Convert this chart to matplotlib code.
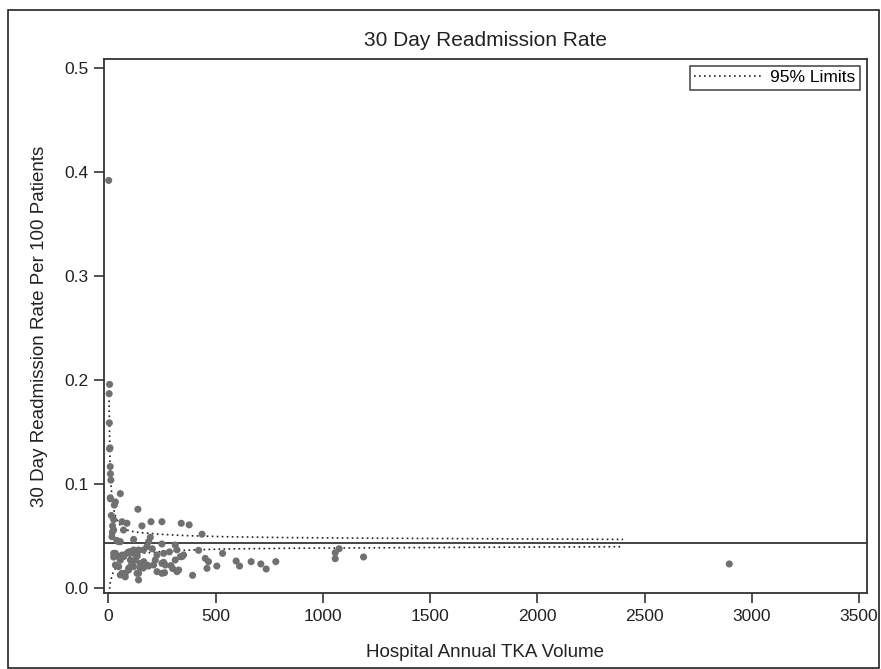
import numpy as np
import matplotlib
matplotlib.use('Agg')
from matplotlib import pyplot as plt
from matplotlib.patches import Rectangle

plt.rcParams['font.family'] = ['Liberation Sans', 'DejaVu Sans']

# 医院年TKA量 与 30天再入院率 (点)
vol = [2, 6, 4, 5, 8, 6, 9, 10, 12, 9, 10, 33, 28, 56, 138,
       25, 64, 87, 71, 157, 25, 17, 19, 40, 47, 56, 118, 196, 199, 250,
       340, 377, 437, 188, 180, 250, 312, 320, 421, 336, 351, 25, 33, 48, 64,
       95, 103, 118, 141, 164, 87, 71, 56, 103, 118, 126, 149, 165, 180, 211,
       188, 163, 149, 33, 48, 56, 64, 79, 79, 95, 95, 103, 118, 134, 141,
       141, 219, 227, 258, 258, 250, 266, 292, 312, 343, 227, 250, 262, 320, 328,
       393, 452, 467, 460, 506, 533, 596, 612, 666, 711, 736, 781, 1076, 1058, 1058,
       1190, 2895, 25, 14, 20, 110, 135, 205, 285, 300]
rate = [0.392, 0.196, 0.187, 0.159, 0.135, 0.134, 0.117, 0.110, 0.104, 0.087, 0.086, 0.083, 0.080, 0.091, 0.076,
        0.066, 0.064, 0.0625, 0.056, 0.060, 0.056, 0.0496, 0.054, 0.046, 0.0448, 0.0448, 0.047, 0.049, 0.064, 0.064,
        0.0625, 0.061, 0.052, 0.0448, 0.040, 0.0426, 0.0416, 0.037, 0.0365, 0.0304, 0.032, 0.0336, 0.0336, 0.0304, 0.032,
        0.035, 0.035, 0.0368, 0.0368, 0.0368, 0.0336, 0.0304, 0.027, 0.0272, 0.0336, 0.027, 0.024, 0.0256, 0.0224, 0.0224,
        0.0214, 0.0195, 0.0195, 0.0224, 0.0208, 0.0128, 0.0144, 0.011, 0.0144, 0.0176, 0.0192, 0.0208, 0.0208, 0.0144, 0.0144,
        0.008, 0.0272, 0.032, 0.0336, 0.025, 0.024, 0.0224, 0.0218, 0.0272, 0.0304, 0.016, 0.0144, 0.015, 0.016, 0.0176,
        0.0125, 0.0288, 0.0256, 0.0192, 0.0214, 0.0336, 0.0262, 0.0214, 0.0256, 0.0234, 0.0186, 0.0256, 0.038, 0.0342, 0.0285,
        0.0301, 0.0234, 0.030, 0.070, 0.060, 0.025, 0.031, 0.038, 0.035, 0.019]

# 平均值和95%界限
mean_rate = 0.0437
lim_x = [3, 5, 8, 12, 20, 30, 50, 71, 100, 149, 240, 304, 382, 537, 848, 1200, 1800, 2400]
lim_up = [0.195, 0.16, 0.12, 0.10, 0.082, 0.071, 0.062, 0.0577, 0.055, 0.0535, 0.052, 0.0512, 0.0505, 0.0496, 0.0487, 0.0482, 0.0476, 0.047]
lim_lo = [-0.01, -0.004, 0.004, 0.008, 0.014, 0.018, 0.0245, 0.028, 0.031, 0.0336, 0.0352, 0.036, 0.0368, 0.0378, 0.0385, 0.0389, 0.0395, 0.040]

xticks = [0, 500, 1000, 1500, 2000, 2500, 3000, 3500]
yticks = [0.0, 0.1, 0.2, 0.3, 0.4, 0.5]

fig = plt.figure(figsize=(8.81, 6.69), dpi=100)
ax = fig.add_axes([104/881, 1-593.3/669, (867-104)/881, (593.3-59)/669])

fig.patches.append(Rectangle((8/881, 0.002), 871/881, 1-10/669-0.002, transform=fig.transFigure,
                             fill=False, edgecolor='#222222', linewidth=1.2))

ax.axhline(mean_rate, color='#444444', lw=1.4, zorder=2)
ax.plot(lim_x, lim_up, color='#222222', lw=1.2, ls=(0, (1, 2)), label='95% Limits', zorder=3)
ax.plot(lim_x, lim_lo, color='#222222', lw=1.2, ls=(0, (1, 2)), zorder=3)
ax.scatter(vol, rate, s=26, color='#707070', edgecolors='none', zorder=4)

ax.set_xlim(-20, 3537)
ax.set_ylim(-0.0048, 0.5087)
ax.set_xticks(xticks)
ax.set_yticks(yticks)
ax.set_yticklabels(['%.1f' % v for v in yticks])
ax.tick_params(length=7, width=1.2, color='#333333', labelsize=12.5, labelcolor='#222222', pad=4)
for s in ax.spines.values():
    s.set_color('#333333')
    s.set_linewidth(1.3)

ax.set_title('30 Day Readmission Rate', fontsize=15, color='#222222', pad=9)
ax.set_xlabel('Hospital Annual TKA Volume', fontsize=13.5, color='#222222', labelpad=15)
ax.set_ylabel('30 Day Readmission Rate Per 100 Patients', fontsize=13.5, color='#222222', labelpad=12)

leg = ax.legend(loc='upper right', fontsize=12.5, frameon=True, fancybox=False,
                borderaxespad=0.4, handlelength=3.9, handletextpad=0.5, borderpad=0.25)
leg.get_frame().set_edgecolor('#222222')
leg.get_frame().set_linewidth(1.2)

plt.savefig('out.png', dpi=100)
